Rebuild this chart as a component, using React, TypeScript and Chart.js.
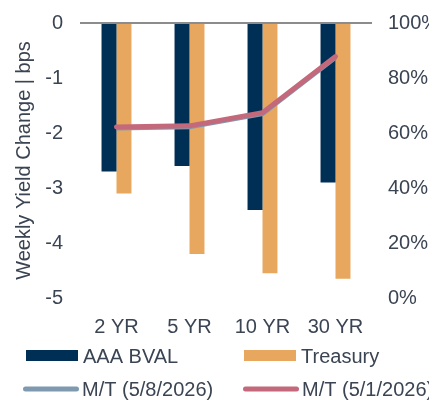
import React, { useEffect, useRef } from "react";
import { Chart, registerables } from "chart.js";

Chart.register(...registerables);

const categories = ["2 YR", "5 YR", "10 YR", "30 YR"];
const aaaBval = [-2.7, -2.6, -3.4, -2.9];
const treasury = [-3.1, -4.2, -4.55, -4.65];
const mtMay8 = [61.8, 62.3, 67.0, 87.5];
const mtMay1 = [62.2, 62.6, 67.4, 87.8];
const leftTicks = [0, -1, -2, -3, -4, -5];
const rightTicks = [0, 20, 40, 60, 80, 100];

const NAVY = "#002f56";
const ORANGE = "#e8a75e";
const GREY = "#7f99b0";
const PINK = "#c4687b";
const TEXT = "#3a4452";
const FONT = "'Liberation Sans', Arial, sans-serif";

const legendPlugin = {
  id: "customLegend",
  afterDraw(chart: any) {
    const ctx = chart.ctx;
    const items = [
      { label: "AAA BVAL", color: NAVY, type: "box", x: 18, y: 347 },
      { label: "Treasury", color: ORANGE, type: "box", x: 236, y: 347 },
      { label: "M/T (5/8/2026)", color: GREY, type: "line", x: 15, y: 381 },
      { label: "M/T (5/1/2026)", color: PINK, type: "line", x: 235, y: 381 },
    ];
    ctx.save();
    ctx.font = `20px ${FONT}`;
    ctx.textBaseline = "middle";
    ctx.textAlign = "left";
    for (const it of items) {
      if (it.type === "box") {
        ctx.fillStyle = it.color;
        ctx.fillRect(it.x, it.y - 5, 52, 11);
        ctx.fillStyle = TEXT;
        ctx.fillText(it.label, it.x + 57, it.y + 2);
      } else {
        ctx.strokeStyle = it.color;
        ctx.lineWidth = 5;
        ctx.lineCap = "round";
        ctx.beginPath();
        ctx.moveTo(it.x + 2.5, it.y);
        ctx.lineTo(it.x + 53.5, it.y);
        ctx.stroke();
        ctx.fillStyle = TEXT;
        ctx.fillText(it.label, it.x + 59, it.y + 1);
      }
    }
    ctx.restore();
  },
};

export default function App() {
  const ref = useRef<HTMLCanvasElement>(null);
  useEffect(() => {
    if (!ref.current) return;
    const chart = new Chart(ref.current, {
      type: "bar",
      data: {
        labels: categories,
        datasets: [
          {
            type: "line",
            label: "M/T (5/8/2026)",
            data: mtMay8,
            yAxisID: "y1",
            borderColor: GREY,
            borderWidth: 5,
            pointRadius: 0,
            tension: 0,
            order: 1,
          } as any,
          {
            type: "line",
            label: "M/T (5/1/2026)",
            data: mtMay1,
            yAxisID: "y1",
            borderColor: PINK,
            borderWidth: 5,
            pointRadius: 0,
            tension: 0,
            borderCapStyle: "round",
            order: 0,
          } as any,
          {
            label: "AAA BVAL",
            data: aaaBval,
            backgroundColor: NAVY,
            yAxisID: "y",
            order: 2,
            barPercentage: 1,
            categoryPercentage: 0.41,
          },
          {
            label: "Treasury",
            data: treasury,
            backgroundColor: ORANGE,
            yAxisID: "y",
            order: 2,
            barPercentage: 1,
            categoryPercentage: 0.41,
          },
        ],
      },
      options: {
        responsive: true,
        maintainAspectRatio: false,
        animation: false,
        layout: { padding: { top: 15, bottom: 62, left: 0, right: 0 } },
        plugins: { legend: { display: false }, tooltip: { enabled: false } },
        scales: {
          x: {
            grid: { display: false, drawTicks: false },
            border: { display: false },
            ticks: { color: TEXT, font: { family: FONT, size: 20 }, padding: 17, maxRotation: 0 },
            afterFit: (s: any) => {
              s.height = 40;
              s.paddingLeft = 0;
              s.paddingRight = 0;
            },
          },
          y: {
            position: "left",
            min: -5,
            max: 0,
            afterBuildTicks: (s: any) => {
              s.ticks = leftTicks.map((v) => ({ value: v }));
            },
            grid: {
              drawTicks: false,
              color: (c: any) => (c.tick && c.tick.value === 0 ? "#8c8c8c" : "transparent"),
              lineWidth: 2,
            },
            border: { display: false },
            ticks: { color: TEXT, font: { family: FONT, size: 20 }, padding: 17 },
            title: {
              display: true,
              text: "Weekly Yield Change | bps",
              color: TEXT,
              font: { family: FONT, size: 20 },
              padding: { top: 4, bottom: 0 },
            },
            afterFit: (s: any) => {
              s.width = 72;
              s.paddingTop = 0;
              s.paddingBottom = 0;
            },
          },
          y1: {
            position: "right",
            min: 0,
            max: 100,
            afterBuildTicks: (s: any) => {
              s.ticks = rightTicks.map((v) => ({ value: v }));
            },
            grid: { display: false, drawTicks: false },
            border: { display: false },
            ticks: {
              color: TEXT,
              font: { family: FONT, size: 20 },
              padding: 16,
              callback: (v: any) => `${v}%`,
            },
            afterFit: (s: any) => {
              s.width = 65;
              s.paddingTop = 0;
              s.paddingBottom = 0;
            },
          },
        },
      },
      plugins: [legendPlugin],
    });
    return () => chart.destroy();
  }, []);
  return (
    <div style={{ width: 429, height: 392, position: "relative" }}>
      <canvas ref={ref} />
    </div>
  );
}
